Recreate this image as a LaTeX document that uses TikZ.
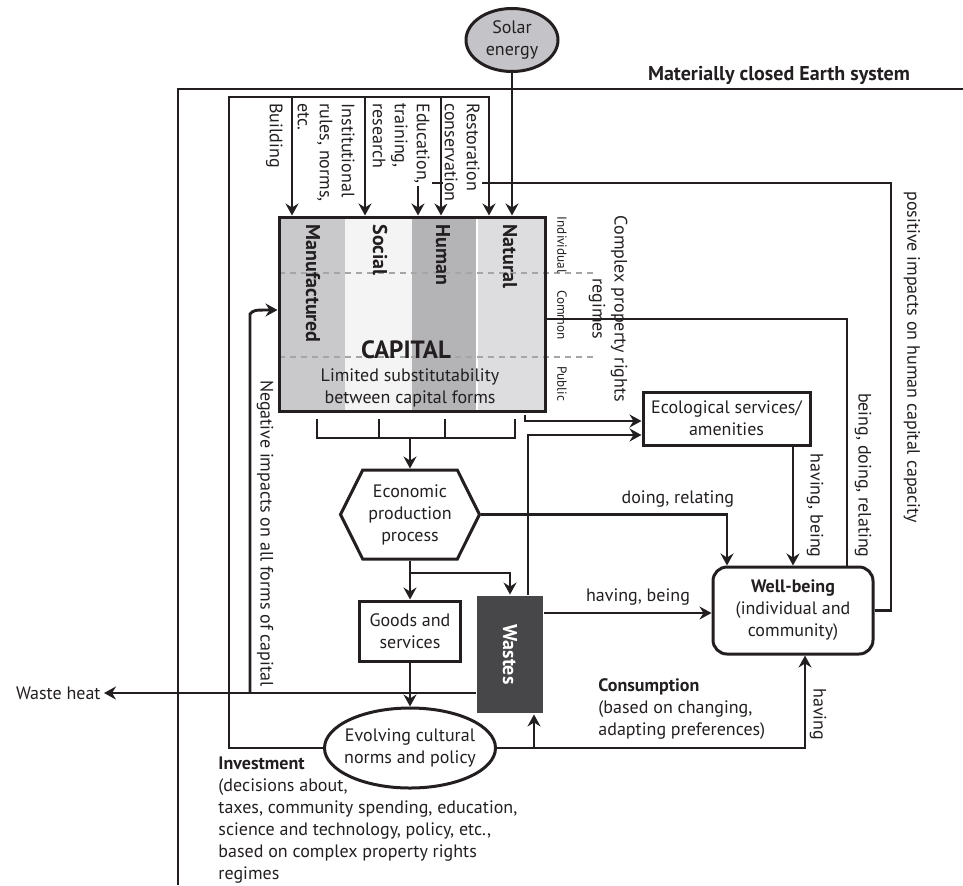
\documentclass[tikz,border=0pt]{standalone}
\usepackage{fontspec}
\setmainfont{PT Sans}
\usetikzlibrary{arrows.meta,shapes.geometric,shapes.symbols}
\definecolor{cLine}{RGB}{35,31,32}
\definecolor{cSolar}{RGB}{196,196,200}
\definecolor{cMan}{RGB}{201,201,203}
\definecolor{cSoc}{RGB}{244,244,244}
\definecolor{cHum}{RGB}{180,180,183}
\definecolor{cNat}{RGB}{221,221,223}
\definecolor{cWaste}{RGB}{71,71,74}
\definecolor{cDash}{RGB}{165,165,165}

\begin{document}
\begin{tikzpicture}[
  x=0.5pt, y=-0.5pt, color=cLine, line width=1.45pt,
  font=\fontsize{9}{11}\selectfont,
  box/.style={draw, line width=1.5pt, align=center, inner sep=1pt},
  arr/.style={-{Stealth[length=6pt,width=6.5pt,inset=2pt]}},
  vtext/.style={rotate=-90, inner sep=1pt, align=left},
  cover/.style={vtext, fill=white, anchor=north west},
  small/.style={font=\fontsize{6.6}{8}\selectfont},
  dash line/.style={cDash, line width=1pt, dash pattern=on 3pt off 2.5pt},
]
\useasboundingbox (0,0) rectangle (963,885);

% columns: 279 / 345 / 412 / 477 / 545   rows: 217 / 273 / 357 / 411
\fill[cMan] (279,217) rectangle (345,411);
\fill[cSoc] (345,217) rectangle (412,411);
\fill[cHum] (412,217) rectangle (477,411);
\fill[cNat] (477,217) rectangle (545,411);
\draw[white, line width=0.6pt] (477,217) -- (477,411);
\foreach \y in {273,357}
  \draw[dash line] (279,\y) -- (593,\y);

\node[box, minimum width=133pt, minimum height=97pt] (cap) at (412,314) {};
\foreach \x/\t in {313/Manufactured,380/Social,443/Human,510/Natural}
  \node[rotate=-90, anchor=west, inner sep=1pt, font=\bfseries] (col-\t) at (\x,221) {\t};
\node[font={\bfseries\fontsize{12.5}{14}\selectfont}] (capt) at (406,350) {CAPITAL};
\node[align=center] (subst) at (410,388) {Limited substitutability\\between capital forms};

\node[draw, ellipse, fill=cSolar, line width=1.5pt, minimum width=46pt, minimum height=31.5pt,
      label={[align=center]center:Solar\\energy}] (solar) at (512,40) {};
\node[box, minimum width=83.5pt, minimum height=26.5pt] (eco) at (726.5,418.5)
     {Ecological services/\\amenities};
\node[box, signal, signal to=west and east, signal pointer angle=127,
      minimum width=69.5pt, minimum height=44.5pt] (econ) at (410,514.5)
     {Economic\\production\\process};
\node[box, minimum width=50.5pt, minimum height=30pt] (goods) at (410,631) {Goods and\\services};
\node[fill=cWaste, minimum width=33pt, minimum height=58.5pt, text=white, font=\bfseries]
     (waste) at (510,654.5) {\rotatebox{-90}{Wastes}};
\node[box, rounded corners=7pt, minimum width=80pt, minimum height=43.5pt] (well) at (793,610.5)
     {\textbf{Well-being}\\(individual and\\community)};
\node[draw, ellipse, line width=1.5pt, minimum width=85.5pt, minimum height=40pt,
      label={[align=center]center:Evolving cultural\\norms and policy}] (norms) at (410,748) {};
\node[anchor=east, inner sep=1pt] (heat) at (104,693) {Waste heat};
\node[anchor=east, font=\bfseries] (earth) at (918,75) {Materially closed Earth system};

% ----- frames --------------------------------------------------------------
\coordinate (frameL) at (178,885);
\coordinate (frameR) at (963,89);
\draw (frameL) |- (frameR);

\coordinate (topL) at (229,97);
\coordinate (topR) at (489,97);
\draw[arr] (norms.west) -| (topL) -| (topR |- cap.north);
\foreach \x in {292,365,441}
  \draw[arr] (topL -| \x,0) -- (cap.north -| \x,0);
\draw[arr] (solar.south) -- (solar.south |- cap.north);

% ----- feedback to human capital -------------------------------------------
\coordinate (posTR) at (891,183);
\draw[arr] (well.east) -| (posTR) -| (cap.north -| 418,0);

% ----- property rights line to well-being ----------------------------------
\coordinate (propR) at (847,319);
\draw (cap.east |- propR) -- (propR) -- (well.north -| propR);

% ----- capital into production ---------------------------------------------
\coordinate (brL) at (317,438);
\coordinate (brR) at (515,438);
\draw (brL |- 0,419) -- (brL) -- (brR) -- (brR |- 0,419);
\foreach \x in {379,445}
  \draw (\x,419) -- (\x,438);
\draw[arr] (econ.north |- brL) -- (econ.north);

% ----- ecological services -------------------------------------------------
\draw[arr] (525,415) |- (eco.west |- 0,421);
\draw[arr] (waste.north -| 528,0) |- (eco.west |- 0,435);
\draw[arr] (eco.south -| well.north) -- (well.north);

% ----- production outputs --------------------------------------------------
\draw[arr] (econ.east) -| (well.north -| 727,0)
  node[pos=0.4, above, inner sep=3pt] (lDoing) {doing, relating};
\draw[arr] (econ.south) -- (goods.north);
\draw[arr] (econ.south |- 0,573) -| (waste.north);
\draw[arr] (goods.south) -- (norms.north);
\draw[arr] (waste.east |- 0,613) -- (well.west |- 0,613)
  node[pos=0.56, above, inner sep=3pt] (lHave) {having, being};

% ----- wastes and negative impacts -----------------------------------------
\coordinate (negB) at (250,693);
\draw[arr] (waste.west |- negB) -- (heat.east);
\draw[arr] (negB) -- (250,314) .. controls (254,310) .. (cap.west |- 0,310);

% ----- consumption ---------------------------------------------------------
\draw[arr] (norms.east) -| (well.south -| 805,0);
\draw[arr] (norms.east -| 534,0) -- (waste.south -| 534,0);

% ----- labels --------------------------------------------------------------
\node[vtext, small] (lIndiv) at (562,245) {Individual};
\node[vtext, small] (lCommon) at (562,315) {Common};
\node[vtext, small] (lPublic) at (562,384) {Public};
\node[vtext, align=center] (lRegime) at (608,309) {Complex property rights\\regimes};
\node[vtext, anchor=east] (lBeing) at (863,561) {being, doing, relating};
\node[vtext, anchor=east] (lEco) at (815,561) {having, being};
\node[vtext, anchor=west] (lPos) at (912,188) {positive impacts on human capital capacity};
\node[vtext, anchor=west] (lHaving) at (818,685) {having};
\node[vtext, anchor=east] (lNeg) at (265,690) {Negative impacts on all forms of capital};
\node[anchor=north west, align=left, inner sep=1pt] (lCons) at (595,675)
     {\textbf{Consumption}\\(based on changing,\\adapting preferences)};
\node[anchor=north west, align=left, inner sep=1pt] (lInv) at (215,753)
     {\textbf{Investment}\\(decisions about,\\taxes, community spending, education,\\
      science and technology, policy, etc.,\\based on complex property rights\\regimes};

\node[vtext, anchor=north west] (lBuild) at (286,100) {Building};
\node[vtext, anchor=north west] (lInst) at (358,100) {Institutional\\rules, norms,\\etc.};
\node[cover] (lEdu) at (433,100) {Education,\\training,\\research};
\node[cover] (lRest) at (483,100) {Restoration\\conservation};
\end{tikzpicture}
\end{document}
